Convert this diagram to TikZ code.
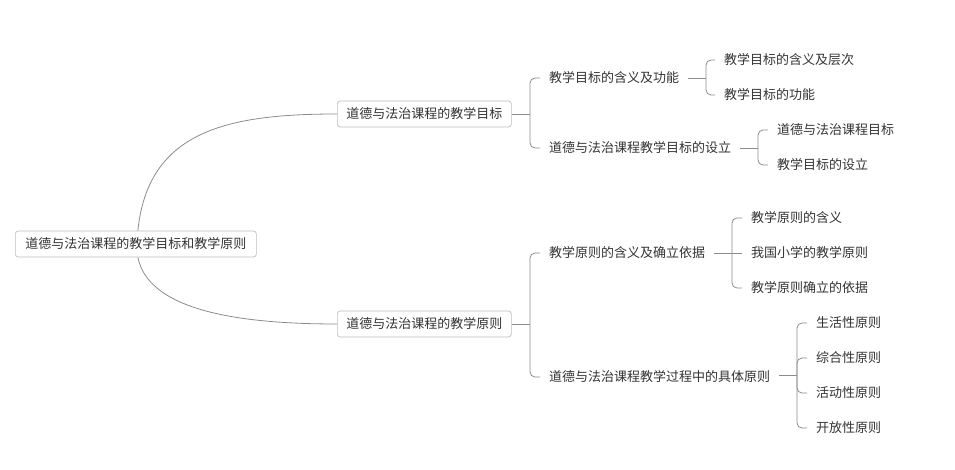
\documentclass[tikz,border=0pt]{standalone}
\usepackage{fontspec}
\setmainfont{Noto Sans CJK SC}
\usetikzlibrary{calc}
\definecolor{txt}{HTML}{333333}
\definecolor{ln}{HTML}{8C8C8C}
\definecolor{bd}{HTML}{BDBDBD}
\begin{document}
\begin{tikzpicture}[x=1pt,y=-1pt,
  rootbox/.style={draw=bd,rounded corners=3pt,fill=white,text=txt,anchor=west,
     font=\fontsize{13}{15}\selectfont,inner xsep=10pt,minimum height=26pt,line width=0.7pt},
  l1box/.style={draw=bd,rounded corners=3pt,fill=white,text=txt,anchor=west,
     font=\fontsize{13}{15}\selectfont,inner xsep=9pt,minimum height=26pt,line width=0.7pt},
  leaf/.style={text=txt,anchor=west,font=\fontsize{13}{15}\selectfont,inner xsep=9pt,inner ysep=2pt},
  conn/.style={draw=ln,line width=0.8pt},
  brk/.style={draw=ln,line width=0.8pt,rounded corners=5pt}]
\useasboundingbox (0,0) rectangle (955,470);

\node[rootbox] (root) at (15,244) {道德与法治课程的教学目标和教学原则};
\node[l1box] (ga) at (337,114) {道德与法治课程的教学目标};
\node[l1box] (gb) at (337,324) {道德与法治课程的教学原则};

\draw[conn] ($(root.north)+(2,0)$) .. controls (148,131) and (227,114) .. (ga.west);
\draw[conn] ($(root.south)+(2,0)$) .. controls (148,307) and (227,324) .. (gb.west);

% level 2
\node[leaf] (a1) at (540,78) {教学目标的含义及功能};
\node[leaf] (a2) at (540,148) {道德与法治课程教学目标的设立};
\node[leaf] (b1) at (540,253) {教学原则的含义及确立依据};
\node[leaf] (b2) at (540,377) {道德与法治课程教学过程中的具体原则};

% level 3
\node[leaf] (a11) at (715,60) {教学目标的含义及层次};
\node[leaf] (a12) at (715,95) {教学目标的功能};
\node[leaf] (a21) at (768,130) {道德与法治课程目标};
\node[leaf] (a22) at (768,165) {教学目标的设立};
\node[leaf] (b11) at (742,218) {教学原则的含义};
\node[leaf] (b12) at (742,253) {我国小学的教学原则};
\node[leaf] (b13) at (742,288) {教学原则确立的依据};
\node[leaf] (b21) at (807,323) {生活性原则};
\node[leaf] (b22) at (807,358) {综合性原则};
\node[leaf] (b23) at (807,393) {活动性原则};
\node[leaf] (b24) at (807,428) {开放性原则};

% brackets
\draw[conn] (ga.east) -- (530,114);
\draw[brk] (530,114) |- (a1.west);
\draw[brk] (530,114) |- (a2.west);
\draw[conn] (gb.east) -- (530,324);
\draw[brk] (530,324) |- (b1.west);
\draw[brk] (530,324) |- (b2.west);

\draw[conn] (a1.east) -- (706,78);
\draw[brk] (706,78) |- (a11.west);
\draw[brk] (706,78) |- (a12.west);

\draw[conn] (a2.east) -- (758,148);
\draw[brk] (758,148) |- (a21.west);
\draw[brk] (758,148) |- (a22.west);

\draw[conn] (b1.east) -- (b12.west);
\draw[brk] (732,253) |- (b11.west);
\draw[brk] (732,253) |- (b13.west);

\draw[conn] (b2.east |- 0,375.5) -- (797,375.5);
\draw[brk] (797,375.5) |- (b21.west);
\draw[brk] (797,375.5) |- (b24.west);
\draw[brk] (797,375.5) |- (b22.west);
\draw[brk] (797,375.5) |- (b23.west);
\end{tikzpicture}
\end{document}
